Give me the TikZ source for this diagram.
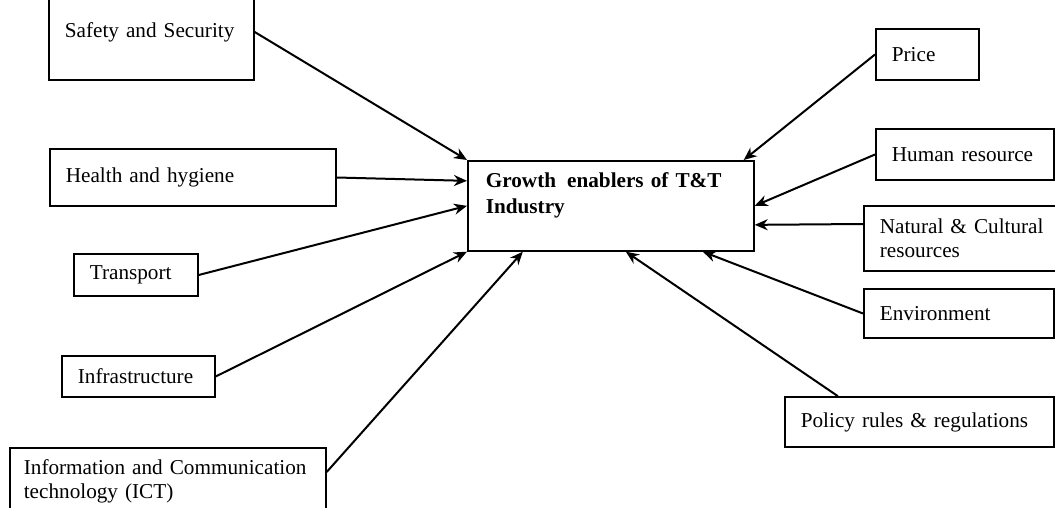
\documentclass[tikz,border=0pt]{standalone}
\usepackage{fontspec}
\setmainfont{Liberation Serif}
\usetikzlibrary{arrows.meta,positioning}

\tikzset{
  factor/.style={draw,line width=0.85pt,anchor=west,align=left,inner xsep=8pt,inner ysep=0pt,
    font=\fontsize{10.6}{12}\selectfont},
}

\begin{document}
\begin{tikzpicture}[x=0.5pt,y=-0.5pt,>={Stealth[length=6.5pt,width=5.5pt]},line width=1pt]
    \useasboundingbox (0,0) rectangle (1055,508);
    \clip (0,0) rectangle (1055,508);
    % centre
    \node (growth) at (467,160) [draw,line width=0.85pt,anchor=north west,align=left,inner xsep=9pt,inner ysep=6pt,
      text width=125pt,text height=7.3pt,text depth=25.7pt,font=\fontsize{10.6}{13}\selectfont\bfseries]
      {Growth\hspace{2pt} enablers of T\&T\\Industry};
    % left factors
    \node (safety) at (48,32) [factor,text width=86.5pt,minimum height=48pt]{Safety and Security};
    \node (health) at (49,177.5) [factor,text width=127pt,minimum height=28.5pt]{Health and hygiene};
    \node (transport) at (73,275) [factor,text width=46pt,minimum height=21pt]{Transport};
    \node (infra) at (61,376.5) [factor,text width=60.5pt,minimum height=20.5pt]{Infrastructure};
    \node (ict) at (9,481) [factor,inner xsep=7pt,text width=144pt,minimum height=33pt]{Information and Communication\\technology (ICT)};
    % right factors
    \node (price) at (875,54.5) [factor,text width=35.5pt,minimum height=25.5pt]{Price};
    \node (human) at (875,154.5) [factor,text width=73pt,minimum height=25.5pt]{Human resource};
    \node (natural) at (863,238.5) [factor,text width=86pt,minimum height=32.5pt]{Natural \& Cultural\\resources};
    \node (environ) at (863,313.5) [factor,text width=79pt,minimum height=24.5pt]{Environment};
    \node (policy) at (784,422) [factor,text width=118.5pt,minimum height=25pt]{Policy rules \& regulations};
    % edges
    \draw[->] (safety.east) -- (growth.north west);
    \draw[->] (health.east) -- ([yshift=12.5pt]growth.west);
    \draw[->] (transport.east) -- (growth.west);
    \draw[->] (infra.east) -- (growth.south west);
    \draw[->] ([yshift=4.5pt]ict.east) -- ([xshift=-44pt]growth.south);
    \draw[->] ([xshift=-40.75pt]policy.north) -- ([xshift=7.5pt]growth.south);
    \draw[->] (environ.west) -- ([xshift=46pt]growth.south);
    \draw[->] ([yshift=7.25pt]natural.west) -- ([yshift=-9.5pt]growth.east);
    \draw[->] (human.west) -- (growth.east);
    \draw[->] (price.west) -- ([xshift=-5.5pt]growth.north east);
\end{tikzpicture}
\end{document}
